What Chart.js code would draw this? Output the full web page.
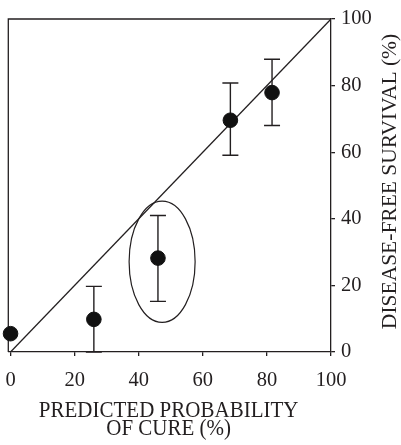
<!DOCTYPE html>
<html>
<head>
<meta charset="utf-8">
<script src="https://cdn.jsdelivr.net/npm/chart.js@4"></script>
<style>
  body { margin: 0; background: #fff; }
  canvas { display: block; }
</style>
</head>
<body>
<canvas id="chart" width="401" height="445"></canvas>
<script>
// data
const predicted = [0, 26, 46, 68.6, 81.6];
const survival = [5.5, 9.8, 28.2, 69.6, 77.9];
const errLow = [null, 0, 15.2, 59.1, 68];
const errHigh = [null, 19.7, 41, 80.8, 87.9];
const xTicks = [0, 20, 40, 60, 80, 100];
const yTicks = [0, 20, 40, 60, 80, 100];
const identity = [0, 100];
// highlighted group (centre x, centre y, half width, half height in data units)
const ellipse = [47.3, 27.1, 10.3, 18.2];
const xTitle = ['PREDICTED PROBABILITY', 'OF CURE (%)'];
const yTitle = 'DISEASE-FREE SURVIVAL (%)';

const ink = '#231f20';
const serif = '"Liberation Serif", "Times New Roman", serif';

const extras = {
    id: 'extras',
    beforeDatasetsDraw(chart) {
        const { ctx, chartArea, scales } = chart;
        const x = scales.x, y = scales.y;
        ctx.save();
        ctx.strokeStyle = ink;
        ctx.lineWidth = 1.3;
        // top and left frame
        ctx.beginPath();
        ctx.moveTo(chartArea.left, chartArea.bottom);
        ctx.lineTo(chartArea.left, chartArea.top);
        ctx.lineTo(chartArea.right, chartArea.top);
        ctx.stroke();
        // error bars
        ctx.lineWidth = 1.4;
        predicted.forEach((p, i) => {
            if (errLow[i] === null) return;
            const px = x.getPixelForValue(p);
            const lo = y.getPixelForValue(errLow[i]);
            const hi = y.getPixelForValue(errHigh[i]);
            ctx.beginPath();
            ctx.moveTo(px, lo); ctx.lineTo(px, hi);
            ctx.moveTo(px - 8, lo); ctx.lineTo(px + 8, lo);
            ctx.moveTo(px - 8, hi); ctx.lineTo(px + 8, hi);
            ctx.stroke();
        });
        // ellipse
        const cx = x.getPixelForValue(ellipse[0]);
        const cy = y.getPixelForValue(ellipse[1]);
        const rx = x.getPixelForValue(ellipse[0] + ellipse[2]) - cx;
        const ry = cy - y.getPixelForValue(ellipse[1] + ellipse[3]);
        ctx.lineWidth = 1.2;
        ctx.beginPath();
        ctx.ellipse(cx, cy, rx, ry, 0, 0, Math.PI * 2);
        ctx.stroke();
        ctx.restore();
    },
    afterDraw(chart) {
        const { ctx, chartArea } = chart;
        ctx.save();
        ctx.fillStyle = ink;
        ctx.textAlign = 'center';
        // x title, glyphs a little taller as in the print
        ctx.font = '21px ' + serif;
        ctx.textBaseline = 'alphabetic';
        const mid = (chartArea.left + chartArea.right) / 2 - 1;
        [416.5, 435].forEach((base, i) => {
            ctx.save();
            ctx.translate(mid, base);
            ctx.scale(1, 1.14);
            ctx.fillText(xTitle[i], 0, 0);
            ctx.restore();
        });
        // y title on the right, reading upwards
        ctx.font = '21.5px ' + serif;
        ctx.textBaseline = 'middle';
        ctx.translate(390, (chartArea.top + chartArea.bottom) / 2 - 4);
        ctx.rotate(-Math.PI / 2);
        ctx.fillText(yTitle, 0, 0);
        ctx.restore();
    }
};

const ctx = document.getElementById('chart').getContext('2d');
const chart = new Chart(ctx, {
    type: 'scatter',
    data: {
        datasets: [{
            label: 'Observed',
            data: predicted.map((p, i) => ({ x: p, y: survival[i] })),
            backgroundColor: '#111',
            borderColor: '#111',
            pointRadius: 7.3,
            pointHoverRadius: 7.3,
            clip: false,
            order: 1
        }, {
            type: 'line',
            label: 'Identity',
            data: identity.map(v => ({ x: v, y: v })),
            borderColor: ink,
            borderWidth: 1.3,
            pointRadius: 0,
            fill: false,
            order: 2
        }]
    },
    options: {
        responsive: false,
        animation: false,
        events: [],
        layout: { padding: { top: 19, left: 8, right: 0, bottom: 0 } },
        plugins: { legend: { display: false }, tooltip: { enabled: false } },
        scales: {
            x: {
                type: 'linear',
                min: -0.7,
                max: 100,
                afterBuildTicks: s => { s.ticks = xTicks.map(v => ({ value: v })); },
                afterFit: s => { s.height = 93; s.paddingLeft = 0; s.paddingRight = 0; },
                border: { color: ink, width: 1.3 },
                grid: { drawOnChartArea: false, drawTicks: true, tickLength: 4, color: ink, lineWidth: 1.3 },
                ticks: { color: ink, font: { family: serif, size: 20.5 }, padding: 12, maxRotation: 0 }
            },
            y: {
                type: 'linear',
                position: 'right',
                min: 0,
                max: 100,
                afterBuildTicks: s => { s.ticks = yTicks.map(v => ({ value: v })); },
                afterFit: s => { s.width = 70; s.paddingTop = 0; s.paddingBottom = 0; },
                border: { color: ink, width: 1.3 },
                grid: { drawOnChartArea: false, drawTicks: true, tickLength: 4, color: ink, lineWidth: 1.3 },
                ticks: { color: ink, font: { family: serif, size: 20.5 }, padding: 6 }
            }
        }
    },
    plugins: [extras]
});
</script>
</body>
</html>
